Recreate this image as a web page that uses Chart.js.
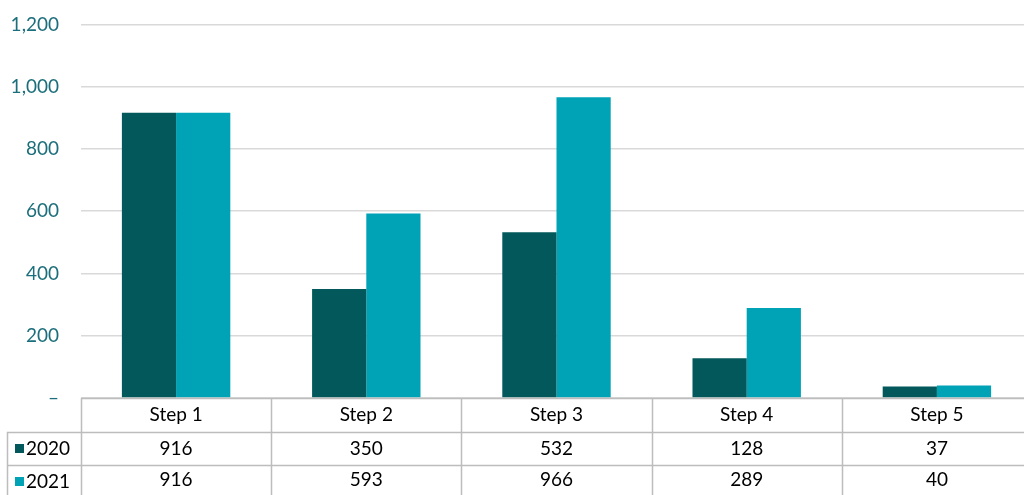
<!DOCTYPE html>
<html lang="en">
<head>
    <meta charset="UTF-8">
    <title>Steps 2020 vs 2021</title>
    <script src="https://cdn.jsdelivr.net/npm/chart.js"></script>
    <style>
        html, body {
            margin: 0;
            padding: 0;
            background: #ffffff;
            overflow: hidden;
        }

        .chart-wrap {
            position: relative;
            top: -9px;
            width: 1032px;
            height: 504px;
        }
    </style>
</head>
<body>
    <div class="chart-wrap">
        <canvas id="stepsChart"></canvas>
    </div>

    <script>
        const categories = ['Step 1', 'Step 2', 'Step 3', 'Step 4', 'Step 5'];
        const seriesNames = ['2020', '2021'];
        const values2020 = [916, 350, 532, 128, 37];
        const values2021 = [916, 593, 966, 289, 40];
        const yTicks = [0, 200, 400, 600, 800, 1000, 1200];

        const darkTeal = '#02585a';
        const lightTeal = '#00a2b6';
        const tableLine = '#bdbdbd';
        const fontFamily = 'Lato, "Open Sans", sans-serif';

        // draws the data table under the bars, aligned to the x scale
        const dataTable = {
            id: 'dataTable',
            afterDraw(chart) {
                const ctx = chart.ctx;
                const x = chart.scales.x;
                const area = chart.chartArea;
                const top = area.bottom;
                const rows = [top, top + 34, top + 67, chart.height];
                const half = (x.getPixelForValue(1) - x.getPixelForValue(0)) / 2;
                const right = x.getPixelForValue(categories.length - 1) + half;

                ctx.save();
                ctx.strokeStyle = tableLine;
                ctx.lineWidth = 1.5;

                // horizontal lines
                ctx.beginPath();
                ctx.moveTo(area.left, rows[0] + 0.5);
                ctx.lineTo(right, rows[0] + 0.5);
                ctx.moveTo(7, rows[1] + 0.5);
                ctx.lineTo(right, rows[1] + 0.5);
                ctx.moveTo(7, rows[2] + 0.5);
                ctx.lineTo(right, rows[2] + 0.5);
                ctx.stroke();

                // vertical lines
                ctx.beginPath();
                ctx.moveTo(7.5, rows[1]);
                ctx.lineTo(7.5, rows[3]);
                for (let i = 0; i <= categories.length; i++) {
                    const px = Math.round(x.getPixelForValue(i) - half) + 0.5;
                    ctx.moveTo(px, rows[0]);
                    ctx.lineTo(px, rows[3]);
                }
                ctx.stroke();

                ctx.fillStyle = '#000000';
                ctx.font = '19px ' + fontFamily;
                ctx.textAlign = 'center';
                ctx.textBaseline = 'middle';

                const series = [values2020, values2021];
                categories.forEach((cat, i) => {
                    const cx = x.getPixelForValue(i);
                    ctx.fillText(cat, cx, (rows[0] + rows[1]) / 2);
                    series.forEach((vals, r) => {
                        ctx.fillText(vals[i].toLocaleString('en-US'), cx, (rows[r + 1] + rows[r + 2]) / 2);
                    });
                });

                // legend keys in the row headers
                ctx.textAlign = 'left';
                const colors = [darkTeal, lightTeal];
                seriesNames.forEach((name, r) => {
                    const cy = top + 34 + 33 * r + 16.5;
                    ctx.fillStyle = colors[r];
                    ctx.fillRect(15, cy - 4.5, 9, 9);
                    ctx.fillStyle = '#000000';
                    ctx.fillText(name, 26, cy);
                });
                ctx.restore();
            }
        };

        new Chart(document.getElementById('stepsChart'), {
            type: 'bar',
            data: {
                labels: categories,
                datasets: [
                    { label: seriesNames[0], data: values2020, backgroundColor: darkTeal },
                    { label: seriesNames[1], data: values2021, backgroundColor: lightTeal }
                ]
            },
            options: {
                responsive: true,
                maintainAspectRatio: false,
                animation: false,
                layout: { padding: { top: 6, bottom: 97, right: 0, left: 0 } },
                datasets: {
                    bar: { categoryPercentage: 0.57, barPercentage: 1.0 }
                },
                plugins: {
                    legend: { display: false },
                    tooltip: { enabled: false }
                },
                scales: {
                    x: {
                        display: false,
                        offset: true
                    },
                    y: {
                        min: yTicks[0],
                        max: yTicks[yTicks.length - 1],
                        afterFit: s => { s.width = 81; },
                        afterBuildTicks: s => { s.ticks = yTicks.map(v => ({ value: v })); },
                        border: { display: false },
                        grid: {
                            color: '#d9d9d9',
                            lineWidth: 1.5,
                            drawTicks: false
                        },
                        ticks: {
                            padding: 22,
                            color: '#1b6e7b',
                            font: { family: fontFamily, size: 19 },
                            callback: v => v === 0 ? '–' : v.toLocaleString('en-US')
                        }
                    }
                }
            },
            plugins: [dataTable]
        });
    </script>
</body>
</html>
